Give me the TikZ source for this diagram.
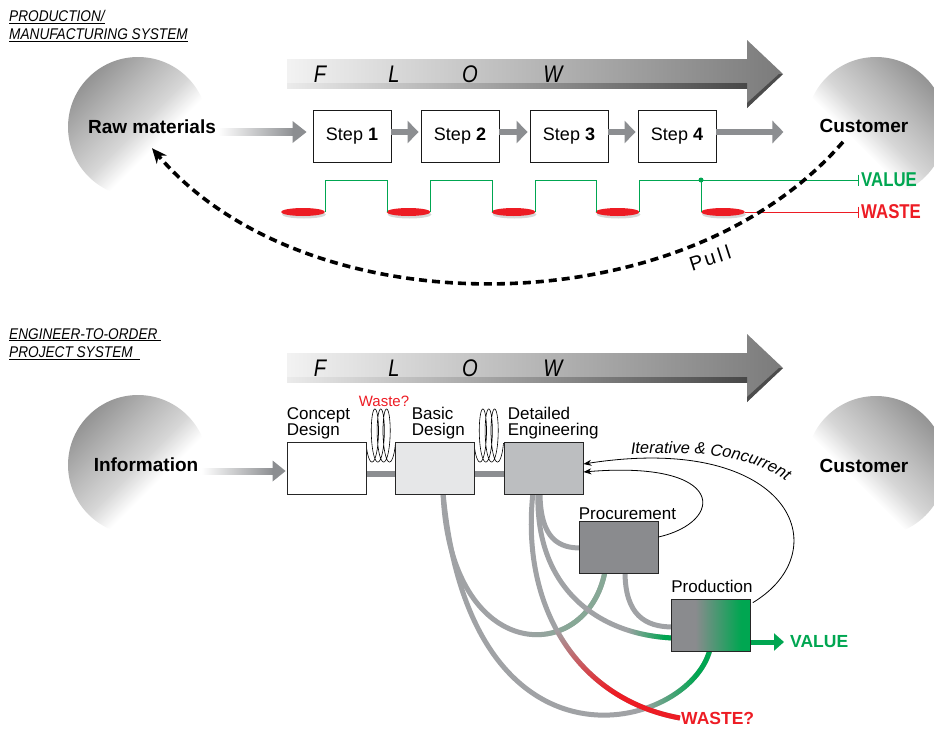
\documentclass[tikz,border=0pt]{standalone}
\usepackage{fontspec}
\setmainfont{Liberation Sans}
\newfontfamily\condfont[FakeStretch=0.84]{Liberation Sans}
\newfontfamily\titlefont[FakeStretch=0.88]{Liberation Sans}
\usetikzlibrary{arrows.meta,fadings,decorations.text,calc}

\definecolor{vgreen}{RGB}{0,166,81}
\definecolor{wred}{RGB}{237,28,36}
\definecolor{agray}{RGB}{140,142,145}
\definecolor{pipegray}{RGB}{160,162,165}
\definecolor{bdfill}{RGB}{230,231,232}
\definecolor{defill}{RGB}{188,190,192}
\definecolor{prfill}{RGB}{138,139,142}
\definecolor{greengray}{RGB}{135,168,150}

\pgfdeclarehorizontalshading{prodshade}{100bp}{color(0bp)=(prfill); color(40bp)=(prfill); color(69bp)=(vgreen); color(100bp)=(vgreen)}
\pgfdeclareverticalshading{orb}{100bp}{color(0bp)=(white); color(41bp)=(white); color(50bp)=(black!16); color(62bp)=(black!28); color(75bp)=(black!42); color(100bp)=(black!42)}

\pgfdeclarehorizontalshading{fAsh}{100bp}{color(0bp)=(black); color(49bp)=(black); color(64bp)=(white); color(100bp)=(white)}
\pgfdeclarefading{fA}{\pgfuseshading{fAsh}}
\pgfdeclarehorizontalshading{fBsh}{100bp}{color(0bp)=(black); color(62bp)=(black); color(72bp)=(white); color(100bp)=(white)}
\pgfdeclarefading{fB}{\pgfuseshading{fBsh}}
\pgfdeclarehorizontalshading{fDsh}{100bp}{color(0bp)=(black); color(58bp)=(black); color(71bp)=(white); color(100bp)=(white)}
\pgfdeclarefading{fD}{\pgfuseshading{fDsh}}
\pgfdeclareverticalshading{fEsh}{100bp}{color(0bp)=(white); color(31bp)=(white); color(45bp)=(black); color(100bp)=(black)}
\pgfdeclarefading{fE}{\pgfuseshading{fEsh}}

\pgfdeclarelayer{bg}
\pgfsetlayers{bg,main}

\begin{document}
\begin{tikzpicture}[x=1pt,y=-1pt,
  ttl/.style={anchor=north west,align=left,inner sep=0pt,font=\titlefont\itshape\fontsize{15.5}{18.5}\selectfont},
  flowl/.style={inner sep=0pt,font=\condfont\itshape\fontsize{24}{24}\selectfont},
  big/.style={inner sep=0pt,font=\bfseries\fontsize{19}{19}\selectfont},
  stepbox/.style={draw=black!90,line width=0.9pt,fill=white,minimum width=78pt,minimum height=52pt,inner sep=0pt,font=\fontsize{18}{18}\selectfont},
  garrow/.style={draw=agray,line width=6.5pt,-{Triangle[length=11pt,width=22pt]}},
  vw/.style={anchor=west,inner xsep=2pt,inner ysep=0pt,font=\condfont\bfseries\fontsize{20}{20}\selectfont},
  pull/.style={draw=black,line width=3.6pt,dash pattern=on 8pt off 5pt,-{Stealth[length=15pt,width=13pt]}},
  dbox/.style={draw=black!85,line width=0.8pt,minimum width=79pt,minimum height=52pt,inner sep=0pt},
  dlabel/.style={anchor=south west,align=left,inner sep=0pt,font=\fontsize{17}{16}\selectfont},
  bar/.style={draw=agray,line width=6.5pt},
  coil/.style={draw=black,line width=0.6pt},
  pipe/.style={draw=pipegray,line width=5pt},
  fb/.style={draw=black,line width=0.8pt,-{Stealth[length=8pt,width=6pt]}}
]
\useasboundingbox (0,0) rectangle (934,731);
\clip (0,0) rectangle (934,731);

% ---------- titles
\node[ttl] (t1) at (9,10) {\underline{PRODUCTION/}\\\underline{MANUFACTURING SYSTEM}};
\node[ttl] (t2) at (9,328) {\underline{ENGINEER-TO-ORDER\ }\\\underline{PROJECT SYSTEM\ \ }};

% ---------- orbs
\shade[shading=orb,shading angle=45] (138,127) circle (70);
\shade[shading=orb,shading angle=-45] (876,127) circle (70);
\shade[shading=orb,shading angle=45] (138,465) circle (70);
\shade[shading=orb,shading angle=-45] (876,466) circle (70);

% ---------- FLOW arrows
\foreach \dy/\k in {0/1,294/2}{
  \begin{scope}[shift={(0,\dy)}]
    \shade[left color=black!5,right color=black!52] (287,59) -- (747,59) -- (747,40) -- (783,74) -- (747,108) -- (747,88) -- (287,88) -- cycle;
    \shade[left color=black!8,right color=black!72] (287,83) rectangle (747,88);
    \fill[black!70] (747,103) -- (779,74) -- (783,74) -- (747,108) -- cycle;
    \node[flowl] (F\k) at (320,74) {F};
    \node[flowl] (L\k) at (394,74) {L};
    \node[flowl] (O\k) at (470,74) {O};
    \node[flowl] (W\k) at (553,74) {W};
  \end{scope}
}

% ---------- top row
\node[big] (raw) at (152,127) {Raw materials};
\node[big] (cust) at (864,126) {Customer};
\foreach \i/\x in {1/352,2/460,3/569,4/677}
  \node[stepbox] (s\i) at (\x,136) {Step \textbf{\i}};

\path (raw.east) ++(2,5) coordinate (rA);
\path (s1.west) ++(-6,-4) coordinate (rB);
\shade[left color=white,right color=agray] ($(rA)+(0,-3.5)$) rectangle ($(rB)+(-12,3.5)$);
\fill[agray] ($(rB)+(-14,-11)$) -- (rB) -- ($(rB)+(-14,11)$) -- cycle;
\draw[garrow] ($(s1.east)+(0,-4)$) -- ($(s2.west)+(-2,-4)$);
\draw[garrow] ($(s2.east)+(0,-4)$) -- ($(s3.west)+(-2,-4)$);
\draw[garrow] ($(s3.east)+(0,-4)$) -- ($(s4.west)+(-2,-4)$);
\draw[garrow] ($(s4.east)+(0,-4)$) -- ($(cust.west)+(-36,6)$);

% value / waste wave
\foreach \c in {303,408.5,513.5,617.5,723}{
  \fill[black!35,opacity=.45] (\c+1,214.5) ellipse (22 and 4);
  \fill[wred] (\c,212) ellipse (22 and 4);
}
\draw[vgreen,line width=1pt] (325,212) -- (325,180) -- (387,180) -- (387,212)
  (430,212) -- (430,180) -- (492,180) -- (492,212)
  (535,212) -- (535,180) -- (596,180) -- (596,212)
  (639,212) -- (639,180) -- (701,180) -- (701,212);
\coordinate (dot) at (701,180);
\coordinate (we) at (745,212);
\fill[vgreen] (dot) circle (2.5);
\node[vw,text=vgreen] (val) at (859,180) {VALUE};
\node[vw,text=wred] (wst) at (859,212) {WASTE};
\draw[vgreen,line width=1pt,-{Bar[width=11pt]}] (dot) -- (val.west);
\draw[wred,line width=1pt,-{Bar[width=11pt]}] (we) -- (wst.west);

% pull
\draw[pull] ($(cust.south)+(-21,9)$) .. controls (680,330) and (305,328) .. ($(raw.south)+(0,14)$);
\node[rotate=18,inner sep=0pt,font=\fontsize{20}{20}\selectfont] (pl) at (710,258) {P\kern2pt u\kern3pt l\kern4pt l};

% ---------- bottom section
\node[big] (info) at (146,465) {Information};
\node[big] (cust2) at (864,466) {Customer};

\node[dbox,fill=white] (cd) at (326.5,468) {};
\node[dbox,fill=bdfill] (bd) at (434.5,468) {};
\node[dbox,fill=defill] (de) at (543.5,468) {};
\node[dbox,fill=prfill] (pr) at (618.5,547) {};
\node[dbox,shade,shading=prodshade] (pd) at (711,625) {};

\node[dlabel] (cdl) at ($(cd.north west)+(0,-2)$) {Concept\\Design};
\node[dlabel] (bdl) at ($(bd.north west)+(17,-2)$) {Basic\\Design};
\node[dlabel] (del) at ($(de.north west)+(4,-2)$) {Detailed\\Engineering};
\node[dlabel] (prl) at ($(pr.north west)+(0,-1)$) {Procurement};
\node[dlabel] (pdl) at ($(pd.north west)+(0,-6)$) {Production};
\node[inner sep=0pt,text=wred,font=\fontsize{15}{15}\selectfont] (wq) at (384,401) {Waste?};

\path (info.east) ++(3,6) coordinate (iA);
\path (cd.west) ++(-1,3) coordinate (iB);
\shade[left color=white,right color=agray] ($(iA)+(0,-3)$) rectangle ($(iB)+(-12,3)$);
\fill[agray] ($(iB)+(-13,-10.5)$) -- (iB) -- ($(iB)+(-13,10.5)$) -- cycle;

\node[inner sep=1pt,anchor=west,text=wred,font=\bfseries\fontsize{17.5}{17.5}\selectfont] (wq2) at (680,718) {WASTE?};
\node[inner sep=0pt,anchor=west,text=vgreen,font=\bfseries\fontsize{17.5}{17.5}\selectfont] (val2) at (790,642) {VALUE};
\draw[draw=vgreen,line width=5pt,-{Triangle[length=10pt,width=17pt]}] ($(pd.east)+(0,17)$) -- ($(val2.west)+(-6,0)$);

\begin{pgfonlayer}{bg}
  \draw[bar] ($(cd.east)+(0,6)$) -- ($(bd.west)+(0,6)$);
  \draw[bar] ($(bd.east)+(0,6)$) -- ($(de.west)+(0,6)$);
  \foreach \xs in {366,474}
    \draw[coil] plot[domain=-1.28:20.13,samples=240,variable=\t]
      ({\xs+0.93*(\t+1.28)+5*(sin(\t r)+0.958)},{462-26.5*(1-cos(\t r))});
  % A
  \draw[pipe] ($(bd.south)+(8.5,-2)$) .. controls (450,666) and (587,666) .. ($(pr.south)+(-13.5,-2)$);
  \draw[pipe,draw=greengray,path fading=fA] ($(bd.south)+(8.5,-2)$) .. controls (450,666) and (587,666) .. ($(pr.south)+(-13.5,-2)$);
  % B
  \draw[pipe] ($(bd.south)+(8.5,-2)$) .. controls (470,790) and (690,730) .. ($(pd.south)+(-1,-2)$);
  \draw[pipe,draw=vgreen,path fading=fB] ($(bd.south)+(8.5,-2)$) .. controls (470,790) and (690,730) .. ($(pd.south)+(-1,-2)$);
  % C
  \draw[pipe] ($(de.south)+(-3.5,-2)$) .. controls (540,540) and (560,548) .. ($(pr.west)+(2,1)$);
  % D
  \draw[pipe] ($(de.south)+(-5.5,-2)$) .. controls (535,590) and (600,635) .. ($(pd.west)+(2,13)$);
  \draw[pipe,draw=vgreen,path fading=fD] ($(de.south)+(-5.5,-2)$) .. controls (535,590) and (600,635) .. ($(pd.west)+(2,13)$);
  % E
  \draw[pipe] ($(de.south)+(-10.5,-2)$) .. controls (520,610) and (580,700) .. (wq2.west);
  \draw[pipe,draw=wred,path fading=fE] ($(de.south)+(-10.5,-2)$) .. controls (520,610) and (580,700) .. (wq2.west);
  % F
  \draw[pipe] ($(pr.south)+(6.5,-2)$) .. controls (625,615) and (645,627) .. ($(pd.west)+(2,2)$);
\end{pgfonlayer}

% feedback arrows
\draw[fb] ($(pr.east)+(0,-10)$) .. controls (725,522) and (728,460) .. ($(de.east)+(0,4)$);
\draw[fb] ($(pd.north east)+(2,4)$) .. controls (840,550) and (790,432) .. ($(de.east)+(0,-4)$);
\path[decorate,decoration={text along path,text={|\itshape\fontsize{16.5}{16.5}\selectfont|Iterative {\&} Concurrent}}]
  (631,454) .. controls (700,451) and (760,454) .. (797,491);
\end{tikzpicture}
\end{document}
